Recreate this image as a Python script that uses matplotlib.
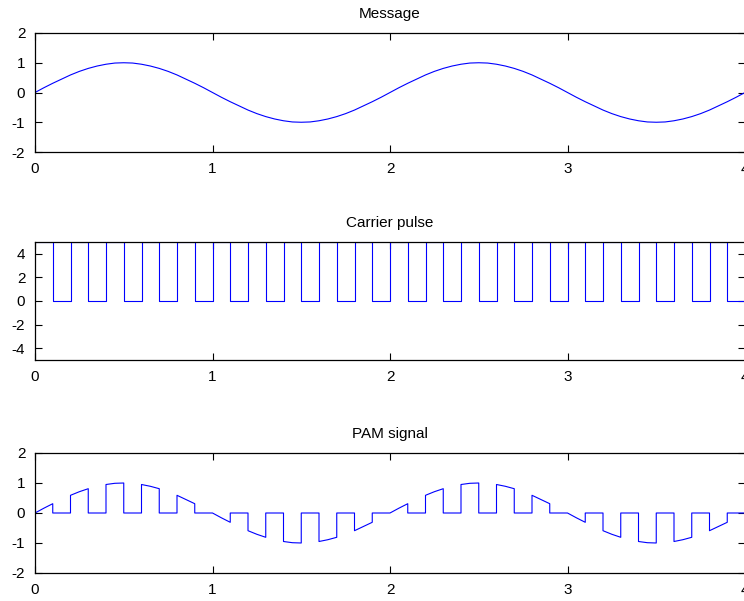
import numpy as np
import matplotlib
matplotlib.use("Agg")
import matplotlib.pyplot as plt

plt.rcParams['font.family'] = ['Liberation Sans', 'DejaVu Sans']
plt.rcParams['axes.unicode_minus'] = False

# message samples every 0.05 s, t = 0 .. 4
t_msg = [i * 0.05 for i in range(81)]
msg = [0.00, 0.16, 0.31, 0.45, 0.59, 0.71, 0.81, 0.89, 0.95, 0.99,
       1.00, 0.99, 0.95, 0.89, 0.81, 0.71, 0.59, 0.45, 0.31, 0.16,
       0.00, -0.16, -0.31, -0.45, -0.59, -0.71, -0.81, -0.89, -0.95, -0.99,
       -1.00, -0.99, -0.95, -0.89, -0.81, -0.71, -0.59, -0.45, -0.31, -0.16,
       0.00, 0.16, 0.31, 0.45, 0.59, 0.71, 0.81, 0.89, 0.95, 0.99,
       1.00, 0.99, 0.95, 0.89, 0.81, 0.71, 0.59, 0.45, 0.31, 0.16,
       0.00, -0.16, -0.31, -0.45, -0.59, -0.71, -0.81, -0.89, -0.95, -0.99,
       -1.00, -0.99, -0.95, -0.89, -0.81, -0.71, -0.59, -0.45, -0.31, -0.16,
       0.00]

# carrier level in each 0.1 s slot
slot = 0.1
carrier = [5, 0] * 20
carrier_amp = 5

titles = ['Message', 'Carrier pulse', 'PAM signal']
x_ticks = [0, 1, 2, 3, 4]

t_msg = np.array(t_msg)
msg = np.array(msg)

# carrier as a step trace
tc, yc = [], []
for k, lev in enumerate(carrier):
    tc += [k * slot, (k + 1) * slot]
    yc += [lev, lev]

# PAM: message gated by carrier
tp, yp = [], []
per = int(round(slot / 0.05))
for k, lev in enumerate(carrier):
    for i in range(k * per, (k + 1) * per + 1):
        tp.append(t_msg[i])
        yp.append(msg[i] * lev / carrier_amp)

W, H = 744, 601
fig = plt.figure(figsize=(W / 100, H / 100), dpi=100)

boxes = [(33, 152), (242, 360), (453, 573)]
left, right = 35, 745
axes = []
for top, bot in boxes:
    ax = fig.add_axes([left / W, 1 - bot / H, (right - left) / W, (bot - top) / H])
    axes.append(ax)

blue = '#0000ff'
axes[0].plot(t_msg, msg, color=blue, lw=0.8)
axes[0].set_ylim(-2, 2)
axes[0].set_yticks([-2, -1, 0, 1, 2])

axes[1].plot(tc, yc, color=blue, lw=0.8)
axes[1].set_ylim(-5, 5)
axes[1].set_yticks([-4, -2, 0, 2, 4])

axes[2].plot(tp, yp, color=blue, lw=0.8)
axes[2].set_ylim(-2, 2)
axes[2].set_yticks([-2, -1, 0, 1, 2])

for ax, ttl in zip(axes, titles):
    ax.set_xlim(0, 4)
    ax.set_xticks(x_ticks)
    ax.set_title(ttl, fontsize=11, pad=11)
    ax.tick_params(direction='in', length=5, width=0.8, labelsize=11,
                   top=True, right=True, pad=7)
    for s in ax.spines.values():
        s.set_linewidth(0.9)

fig.savefig('out.png', dpi=100)
